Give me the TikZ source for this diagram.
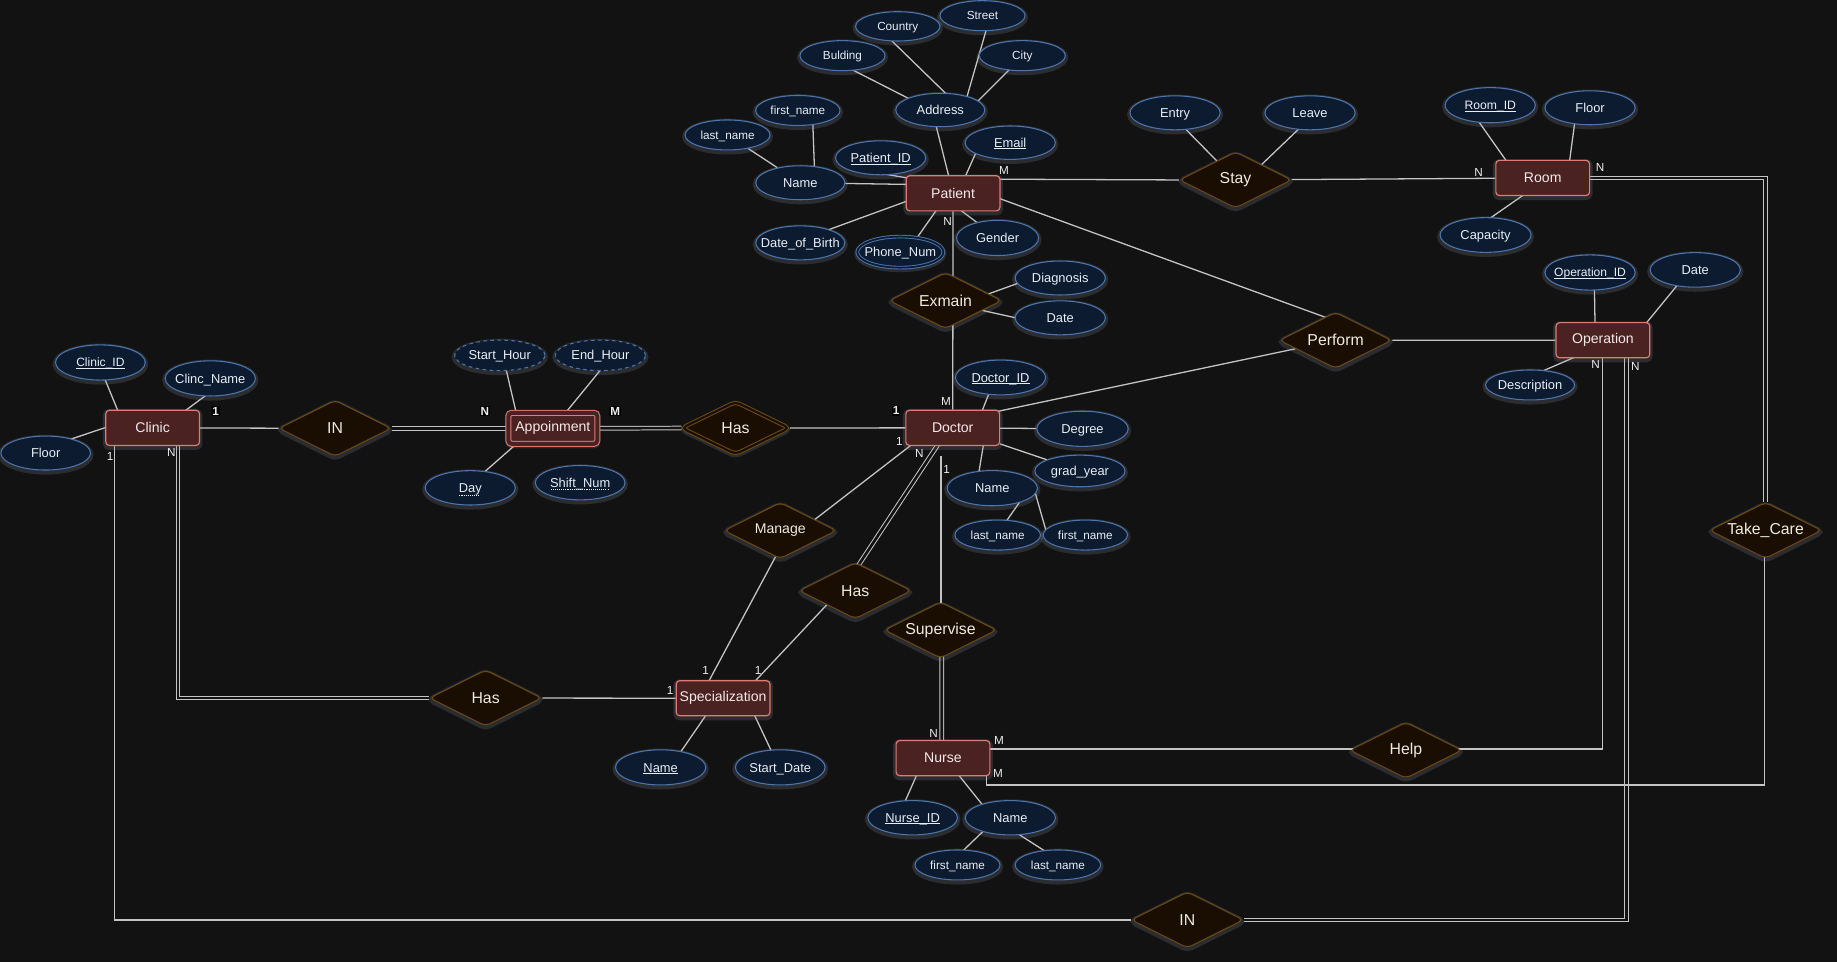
\documentclass[tikz,border=0pt]{standalone}
\usepackage{fontspec}
\setmainfont{Liberation Sans}
\usetikzlibrary{shapes.geometric,calc}
\pgfdeclarelayer{bgl}
\pgfdeclarelayer{edges}
\pgfsetlayers{bgl,edges,main}
\definecolor{bgc}{HTML}{121212}
\definecolor{entfill}{HTML}{4A2222}
\definecolor{entdraw}{HTML}{DE7B73}
\definecolor{attfill}{HTML}{0C1B30}
\definecolor{attdraw}{HTML}{4C75AD}
\definecolor{relfill}{HTML}{1A0E02}
\definecolor{reldraw}{HTML}{6B4A12}
\definecolor{linec}{HTML}{C4C4C4}
\definecolor{enttxt}{HTML}{F5E9E9}
\definecolor{atttxt}{HTML}{E8EEF5}
\definecolor{reltxt}{HTML}{F0EAE0}
\definecolor{cardtxt}{HTML}{EEEEEE}
\definecolor{glowc}{HTML}{8A94AA}
\newcommand\attxt[1]{\raisebox{-0.36em}[0pt][0pt]{\makebox[0pt]{#1}}}
\newcommand\keyul[1]{\setbox0=\hbox{#1}\rlap{\copy0}\raisebox{-1.6pt}{\rule{\wd0}{0.7pt}}}
\newcommand\dotul[1]{\setbox0=\hbox{#1}\rlap{\copy0}\raisebox{-2.4pt}{\hbox to \wd0{\leaders\hbox to 1.8pt{\hss\rule{0.9pt}{0.6pt}\hss}\hfill}}}
\tikzset{
  glow/.style={preaction={draw=glowc, solid, line width=5pt, draw opacity=0.2, transform canvas={yshift=-1.4pt}}},
  ent/.style={rectangle, rounded corners=3pt, draw=entdraw, fill=entfill, line width=1pt, minimum width=80pt, minimum height=30pt, inner sep=0pt, text=enttxt, font=\fontsize{12}{14}\selectfont, glow},
  weakent/.style={ent, double=entfill, double distance=3.4pt, line width=0.9pt, minimum width=76pt, minimum height=26.5pt},
  att/.style={ellipse, draw=attdraw, fill=attfill, line width=0.9pt, minimum width=77pt, minimum height=29pt, inner sep=0pt, text=atttxt, font=\fontsize{11}{13}\selectfont, glow},
  satt/.style={att, minimum width=73pt, minimum height=25.6pt, font=\fontsize{10}{12}\selectfont},
  rel/.style={diamond, aspect=2, rounded corners=4pt, draw=reldraw, fill=relfill, line width=0.9pt, minimum width=96pt, minimum height=48pt, inner sep=0pt, text=reltxt, font=\fontsize{13.5}{15}\selectfont, glow},
  weakrel/.style={rel, double=relfill, double distance=1.8pt, minimum width=92pt, minimum height=45pt},
  conn/.style={draw=linec, line width=1.1pt},
  dbl/.style={draw=linec, line width=0.85pt, double=bgc, double distance=2.3pt},
  card/.style={text=cardtxt, font=\fontsize{10}{12}\selectfont, inner sep=0.8pt},
  cardb/.style={card, fill=black, font=\fontsize{10}{12}\selectfont\bfseries}
}
\begin{document}
\begin{tikzpicture}[x=1pt,y=-1pt]
\useasboundingbox (0,0) rectangle (1568,821);
\begin{pgfonlayer}{bgl}
\fill[bgc] (0,0) rectangle (1568,821);
\end{pgfonlayer}

% entities
\node[ent] (Patient) at (813.5,165) {Patient};
\node[ent] (Clinic) at (130.3,365.2) {Clinic};
\node[weakent] (Appt) at (471.9,365.6) {Appoinment};
\node[ent] (Doctor) at (813.2,365.2) {Doctor};
\node[ent] (Spec) at (617.2,596) {Specialization};
\node[ent] (Nurse) at (804.9,647.1) {Nurse};
\node[ent] (Room) at (1316.8,151.9) {Room};
\node[ent] (Operation) at (1368.2,290.4) {Operation};

% relationships
\node[rel] (Stay) at (1054.6,153.6) {Stay};
\node[rel] (Exmain) at (807,256.6) {Exmain};
\node[rel] (Perform) at (1140,290.5) {Perform};
\node[rel] (INl) at (286,365.6) {IN};
\node[weakrel] (HasW) at (627.8,365.3) {Has};
\node[rel, font=\fontsize{12}{14}\selectfont] (Manage) at (666,452.9) {Manage};
\node[rel] (HasM) at (730,504.2) {Has};
\node[rel] (Supervise) at (802.8,537.8) {Supervise};
\node[rel] (HasL) at (414.5,595.8) {Has};
\node[rel] (Help) at (1200,640.4) {Help};
\node[rel] (TakeCare) at (1507,452.7) {Take\_Care};
\node[rel] (INb) at (1013.5,785.2) {IN};

% patient attributes
\node[satt, minimum width=72pt, minimum height=25pt] (Country) at (766.3,22.5) {\attxt{Country}};
\node[satt, minimum width=72.6pt] (Street) at (838.6,13.4) {\attxt{Street}};
\node[satt, minimum width=72.6pt] (Bulding) at (719.1,47.5) {\attxt{Bulding}};
\node[satt, minimum width=73.4pt] (City) at (872.6,47.5) {\attxt{City}};
\node[att, minimum width=76pt, minimum height=28.5pt] (Address) at (802.6,93.9) {\attxt{Address}};
\node[satt, minimum width=72pt] (pfirst) at (681,94.3) {\attxt{first\_name}};
\node[satt, minimum width=72.5pt] (plast) at (621,115.2) {\attxt{last\_name}};
\node[att] (PatientID) at (751.7,134.7) {\attxt{\keyul{Patient\_ID}}};
\node[att, minimum height=28.5pt] (Email) at (862.3,121.8) {\attxt{\keyul{Email}}};
\node[att, minimum width=76pt] (PName) at (683.1,156) {\attxt{Name}};
\node[att, minimum width=76pt] (DOB) at (683.1,207.3) {\attxt{Date\_of\_Birth}};
\node[att, double=attfill, double distance=1.5pt, line width=0.8pt, minimum width=73.5pt, minimum height=26.5pt] (Phone) at (768.5,215.2) {\attxt{Phone\_Num}};
\node[att, minimum width=70pt, minimum height=30pt] (Gender) at (851.5,203.1) {\attxt{Gender}};

% exmain / doctor attributes
\node[att] (Diagnosis) at (905,237.3) {\attxt{Diagnosis}};
\node[att] (EDate) at (905,271.3) {\attxt{Date}};
\node[att, minimum height=29.7pt] (DID) at (854,322.2) {\attxt{\keyul{Doctor\_ID}}};
\node[att, minimum width=78pt, minimum height=30pt] (Degree) at (924,366) {\attxt{Degree}};
\node[att, minimum height=27pt] (GradYear) at (921.8,402) {\attxt{grad\_year}};
\node[att, minimum height=30pt] (DName) at (847,416.7) {\attxt{Name}};
\node[satt] (dlast) at (851.6,456.7) {\attxt{last\_name}};
\node[satt, minimum width=72pt] (dfirst) at (926.4,456.7) {\attxt{first\_name}};

% clinic / appointment attributes
\node[att, minimum width=76.6pt, minimum height=30pt, font=\fontsize{10.3}{12}\selectfont] (ClinicID) at (85.7,309.4) {\attxt{\keyul{Clinic\_ID}}};
\node[att, minimum height=30pt] (ClincName) at (179.5,323) {\attxt{Clinc\_Name}};
\node[att, minimum width=76.5pt] (Floor) at (39,386.7) {\attxt{Floor}};
\node[att, dashed, minimum height=26pt] (StartH) at (426.6,303.3) {\attxt{Start\_Hour}};
\node[att, dashed, minimum height=26pt] (EndH) at (512.5,303.3) {\attxt{End\_Hour}};
\node[att, minimum height=29.3pt] (Day) at (401.4,416.4) {\attxt{\dotul{Day}}};
\node[att, minimum width=76.5pt, minimum height=29.3pt] (ShiftNum) at (495.2,412) {\attxt{\dotul{Shift\_Num}}};

% stay / room / operation attributes
\node[att] (Entry) at (1003,96.3) {\attxt{Entry}};
\node[att] (Leave) at (1118.2,96.3) {\attxt{Leave}};
\node[att, minimum height=30pt, font=\fontsize{10.4}{12}\selectfont] (RoomID) at (1272,89.8) {\attxt{\keyul{Room\_ID}}};
\node[att] (RFloor) at (1357.2,92) {\attxt{Floor}};
\node[att, minimum width=77.6pt, minimum height=29.6pt] (Capacity) at (1268,200.6) {\attxt{Capacity}};
\node[att, minimum height=30pt, font=\fontsize{10.3}{12}\selectfont] (OpID) at (1357.2,232.6) {\attxt{\keyul{Operation\_ID}}};
\node[att, minimum height=29.5pt] (ODate) at (1447,230.4) {\attxt{Date}};
\node[att, minimum width=76pt, minimum height=25.6pt] (Desc) at (1306,328.6) {\attxt{Description}};

% specialization / nurse attributes
\node[att, minimum height=30pt] (SName) at (563.9,655) {\attxt{\keyul{Name}}};
\node[att, minimum width=76.5pt, minimum height=30pt] (SDate) at (666,655) {\attxt{Start\_Date}};
\node[att, minimum width=76.5pt, minimum height=29.3pt] (NID) at (779,698) {\attxt{\keyul{Nurse\_ID}}};
\node[att, minimum height=29.3pt] (NName) at (862.4,698) {\attxt{Name}};
\node[satt, minimum width=72.6pt] (nfirst) at (817.3,738.3) {\attxt{first\_name}};
\node[satt] (nlast) at (903,738.3) {\attxt{last\_name}};

% cardinalities
\node[cardb] (c1) at (184,350.8) {1};
\node[cardb] (c2) at (413.8,350.8) {N};
\node[cardb] (c3) at (525.2,350.8) {M};
\node[cardb] (c4) at (765,350.5) {1};
\node[card] (c5) at (94,389.8) {1};
\node[card] (c6) at (146.2,386.4) {N};
\node[card] (c7) at (857,145.1) {M};
\node[card] (c8) at (808.9,189.2) {N};
\node[card] (c9) at (807.5,342.8) {M};
\node[card] (c10) at (767.6,376.4) {1};
\node[card] (c11) at (784.7,387) {N};
\node[card] (c12) at (808,400.6) {1};
\node[card] (c13) at (602.3,571.9) {1};
\node[card] (c14) at (647,572) {1};
\node[card] (c15) at (572,589.5) {1};
\node[card] (c16) at (796.8,626) {N};
\node[card] (c17) at (852.7,632.2) {M};
\node[card] (c18) at (851.9,660.6) {M};
\node[card] (c19) at (1262,147.4) {N};
\node[card] (c20) at (1365.7,143.1) {N};
\node[card] (c21) at (1362,311.5) {N};
\node[card] (c22) at (1395.8,313) {N};

\begin{pgfonlayer}{edges}
% double (total participation) connectors
\draw[dbl] ($(Doctor)+(-3.2,0)$) -- ($(HasM)+(-11.6,0)$);
\draw[dbl] ($(Supervise)+(1,0)$) -- ($(Nurse)+(-1,0)$);
\draw[dbl] (Room) -| (TakeCare);
\draw[dbl] ($(Operation)+(20,0)$) |- (INb);
\draw[dbl] ($(Clinic)+(21.7,0)$) |- (HasL);
\draw[dbl] (INl) -- (Appt);
\draw[dbl] (Appt) -- (HasW);
% patient
\draw[conn] ($(Address)+(-7,0)$) -- (Patient);
\draw[conn] ($(Email)+(-25.5,0)$) -- ($(Patient)+(4,0)$);
\draw[conn] ($(PatientID)+(0,13.3)$) -- ($(Patient)+(0,-6.4)$);
\draw[conn] (PName) -- ($(Patient)+(0,-7)$);
\draw[conn] ($(pfirst)+(12.4,0)$) -- ($(PName)+(12.5,0)$);
\draw[conn] (plast) -- (PName);
\draw[conn] ($(DOB)+(0,-2.4)$) -- ($(Patient)+(0,-7.7)$);
\draw[conn] ($(Phone)+(5.6,0)$) -- ($(Patient)+(-4.1,0)$);
\draw[conn] (Gender) -- ($(Patient)+(-12.8,0)$);
\draw[conn] ($(Country)+(-17.8,0)$) -- ($(Address)+(19.2,0)$);
\draw[conn] ($(Street)+(6.7,0)$) -- ($(Address)+(19.5,0)$);
\draw[conn] ($(City)+(0.8,0)$) -- ($(Address)+(24.5,0)$);
\draw[conn] ($(Bulding)+(0,7.8)$) -- ($(Address)+(0,3.9)$);
% stay / room
\draw[conn] ($(Patient)+(0,-12.2)$) -- (Stay.west);
\draw[conn] (Stay) -- (Room);
\draw[conn] ($(Entry)+(-4.7,0)$) -- (Stay);
\draw[conn] ($(Leave)+(4.8,0)$) -- ($(Stay)+(8.5,0)$);
\draw[conn] ($(RoomID)+(-19.7,0)$) -- ($(Room)+(-20.8,0)$);
\draw[conn] ($(RFloor)+(-11.4,0)$) -- ($(Room)+(21,0)$);
\draw[conn] ($(Capacity)+(-16.7,0)$) -- ($(Room)+(4.4,0)$);
% perform / operation
\draw[conn] ($(Patient)+(0,-10)$) -- ($(Perform)+(0,-16.5)$);
\draw[conn] ($(Doctor)+(0,-6)$) -- (Perform);
\draw[conn] (Perform) -- (Operation);
\draw[conn] ($(OpID)+(3.5,0)$) -- ($(Operation)+(-6.5,0)$);
\draw[conn] ($(ODate)+(-4.6,0)$) -- ($(Operation)+(25,0)$);
\draw[conn] ($(Desc)+(-16.8,0)$) -- ($(Operation)+(9.4,0)$);
% exmain / doctor
\draw[conn] (Patient) -- (Doctor);
\draw[conn] ($(Diagnosis)+(0,-8.5)$) -- ($(Exmain)+(0,7.5)$);
\draw[conn] ($(EDate)+(0,8.4)$) -- ($(Exmain)+(0,1.4)$);
\draw[conn] ($(DID)+(-4.5,0)$) -- ($(Doctor)+(19.4,0)$);
\draw[conn] (Doctor) -- (Degree);
\draw[conn] (Doctor) -- (GradYear);
\draw[conn] ($(DName)+(-13.7,0)$) -- ($(Doctor)+(28.6,0)$);
\draw[conn] ($(DName)+(31.6,0)$) -- ($(dlast)+(-0.9,0)$);
\draw[conn] ($(DName)+(35.5,0)$) -- ($(dfirst)+(-32.5,0)$);
\draw[conn] (HasW) -- (Doctor);
\draw[conn] ($(Doctor)+(0,-12.7)$) -- ($(Manage)+(0,13.3)$);
\draw[conn] ($(Manage)+(7.9,0)$) -- ($(Spec)+(-20,0)$);
\draw[conn] ($(HasM)+(-13,0)$) -- ($(Spec)+(13.6,0)$);
\draw[conn] ($(Doctor.south)+(-10,8.6)$) -- ($(Supervise)+(0.4,0)$);
% specialization / nurse
\draw[conn] (HasL) -- (Spec);
\draw[conn] ($(Spec)+(-4.6,0)$) -- ($(SName)+(8,0)$);
\draw[conn] ($(Spec)+(20,0)$) -- ($(SDate)+(-1,0)$);
\draw[conn] ($(Nurse)+(-16,0)$) -- ($(NID)+(-12.7,0)$);
\draw[conn] ($(Nurse)+(1.8,0)$) -- ($(NName)+(-15,0)$);
\draw[conn] ($(NName)+(-11.2,0)$) -- ($(nfirst)+(-8,0)$);
\draw[conn] ($(NName)+(-15,0)$) -- ($(nlast)+(7.5,0)$);
\draw[conn] ($(Nurse)+(0,-7.8)$) -| ($(Operation)+(-0.6,0)$);
\draw[conn] ($(Nurse)+(36.9,0)$) |- ($(TakeCare)+(-1,217.3)$) -- ($(TakeCare)+(-1,0)$);
% clinic / appointment
\draw[conn] (INb) -| ($(Clinic)+(-32.3,0)$);
\draw[conn] (Clinic) -- (INl);
\draw[conn] ($(ClinicID)+(-2,0)$) -- ($(Clinic)+(-23.7,0)$);
\draw[conn] ($(ClincName)+(15.8,0)$) -- ($(Clinic)+(8,0)$);
\draw[conn] ($(Floor)+(0,-4.7)$) -- ($(Clinic)+(0,-13.7)$);
\draw[conn] ($(StartH)+(2.6,0)$) -- ($(Appt)+(-28.2,0)$);
\draw[conn] ($(EndH)+(10.3,0)$) -- (Appt);
\draw[conn] ($(Appt)+(-16,0)$) -- ($(Day)+(-3.3,0)$);
\end{pgfonlayer}
\end{tikzpicture}
\end{document}
